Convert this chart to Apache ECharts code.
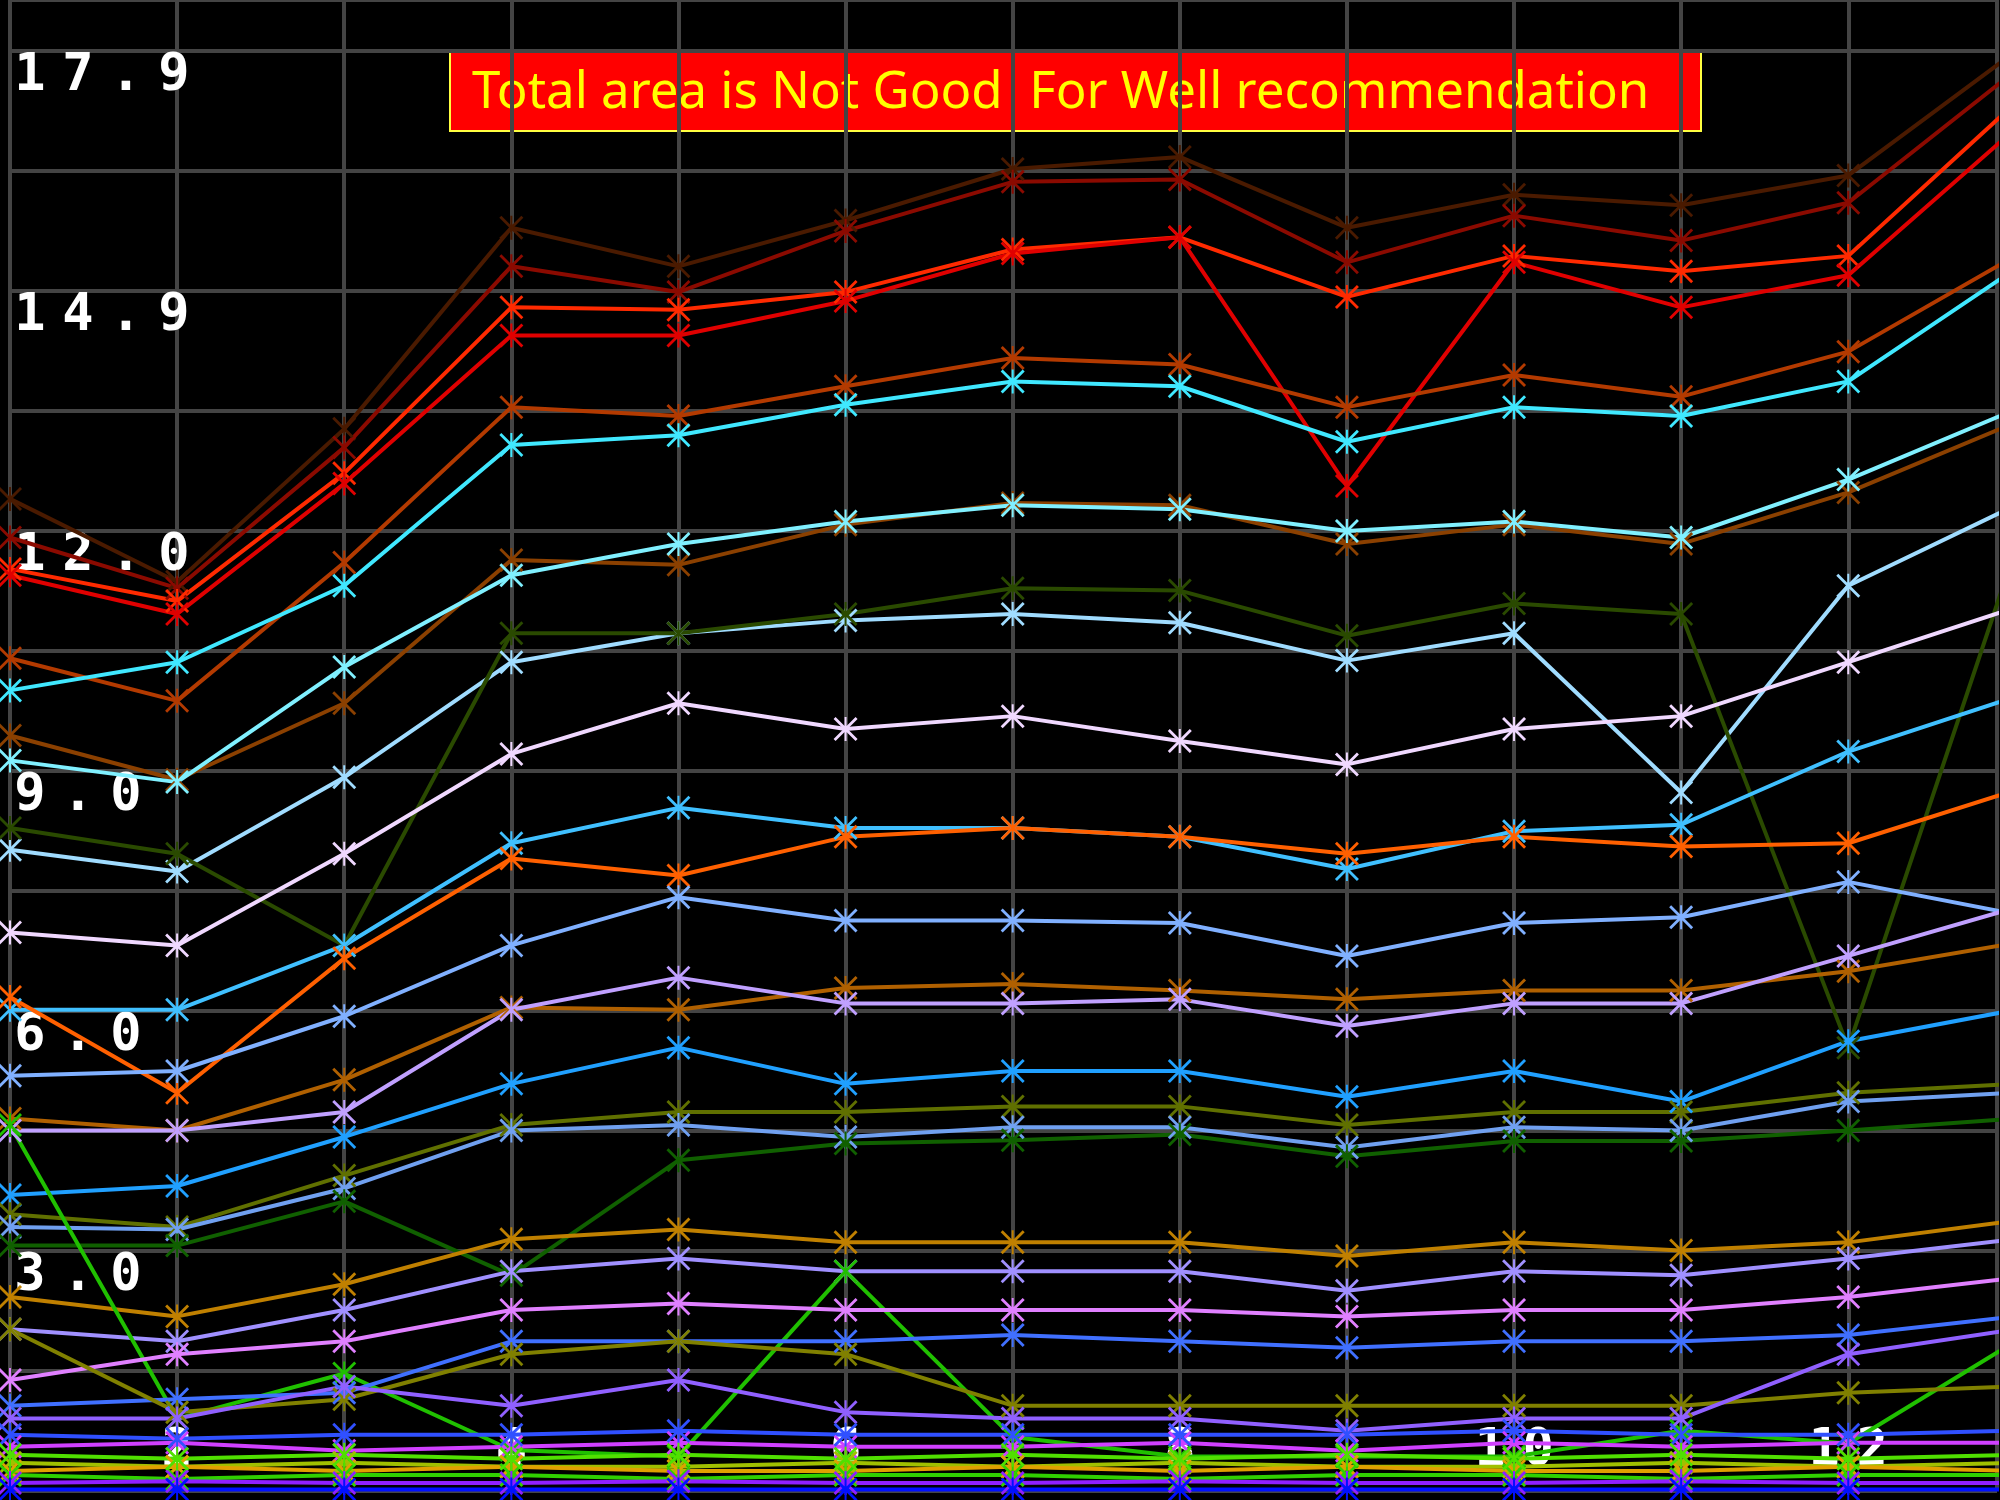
<!DOCTYPE html>
<html>
<head>
<meta charset="utf-8">
<script src="https://cdn.jsdelivr.net/npm/echarts@6/dist/echarts.min.js"></script>
<style>
  html, body { margin: 0; padding: 0; background: #000; }
  #chart { width: 2000px; height: 1500px; }
</style>
</head>
<body>
<div id="chart"></div>
<script>
const xValues = [1, 2, 3, 4, 5, 6, 7, 8, 9, 10, 11, 12, 13];
const yTickLabels = ['', '', '3.0', '', '6.0', '', '9.0', '', '12.0', '', '14.9', '', '17.9'];
const titleText = 'Total area is Not Good  For Well recommendation';

const s1 = [12.33, 11.30, 13.20, 15.70, 15.22, 15.79, 16.43, 16.58, 15.70, 16.11, 15.98, 16.35, 17.89];
const s2 = [11.85, 11.22, 12.97, 15.22, 14.90, 15.66, 16.27, 16.30, 15.27, 15.85, 15.54, 16.01, 17.65];
const s3 = [11.46, 11.06, 12.65, 14.71, 14.68, 14.90, 15.43, 15.58, 14.84, 15.35, 15.16, 15.35, 17.25];
const s4 = [11.38, 10.90, 12.52, 14.36, 14.36, 14.79, 15.38, 15.58, 12.49, 15.27, 14.71, 15.11, 16.93];
const s5 = [10.35, 9.82, 11.54, 13.47, 13.36, 13.73, 14.08, 14.00, 13.47, 13.87, 13.60, 14.16, 15.35];
const s6 = [9.95, 10.30, 11.25, 13.00, 13.12, 13.50, 13.79, 13.73, 13.04, 13.47, 13.36, 13.79, 15.19];
const s7 = [9.39, 8.84, 9.79, 11.57, 11.51, 12.01, 12.28, 12.25, 11.77, 12.01, 11.77, 12.41, 13.28];
const s8 = [9.08, 8.81, 10.24, 11.38, 11.77, 12.05, 12.25, 12.20, 11.93, 12.05, 11.85, 12.57, 13.44];
const s9 = [7.97, 7.70, 8.87, 10.30, 10.66, 10.82, 10.90, 10.79, 10.32, 10.66, 8.68, 11.25, 12.25];
const s10 = [8.24, 7.92, 6.78, 10.66, 10.66, 10.90, 11.22, 11.19, 10.63, 11.03, 10.90, 5.51, 11.70];
const s11 = [6.94, 6.78, 7.92, 9.16, 9.79, 9.47, 9.63, 9.32, 9.03, 9.47, 9.63, 10.30, 10.98];
const s12 = [5.98, 5.98, 6.78, 8.05, 8.49, 8.24, 8.24, 8.13, 7.73, 8.20, 8.28, 9.19, 9.87];
const s13 = [6.14, 4.95, 6.62, 7.86, 7.65, 8.13, 8.24, 8.13, 7.92, 8.13, 8.01, 8.05, 8.71];
const s14 = [5.16, 5.22, 5.90, 6.78, 7.38, 7.09, 7.09, 7.06, 6.65, 7.06, 7.13, 7.57, 7.17];
const s15 = [4.63, 4.48, 5.11, 6.01, 5.98, 6.25, 6.30, 6.22, 6.11, 6.22, 6.22, 6.46, 6.81];
const s16 = [4.48, 4.48, 4.71, 5.98, 6.38, 6.06, 6.06, 6.11, 5.78, 6.06, 6.06, 6.65, 7.25];
const s17 = [3.68, 3.79, 4.40, 5.06, 5.51, 5.06, 5.22, 5.22, 4.90, 5.22, 4.84, 5.59, 5.98];
const s18 = [3.44, 3.28, 3.92, 4.55, 4.71, 4.71, 4.78, 4.78, 4.55, 4.71, 4.71, 4.95, 5.06];
const s19 = [3.28, 3.25, 3.76, 4.48, 4.55, 4.40, 4.52, 4.52, 4.27, 4.52, 4.48, 4.84, 4.95];
const s20 = [3.05, 3.05, 3.60, 2.68, 4.11, 4.32, 4.36, 4.43, 4.16, 4.35, 4.35, 4.48, 4.63];
const s21 = [2.41, 2.17, 2.57, 3.13, 3.25, 3.09, 3.09, 3.09, 2.92, 3.09, 2.99, 3.09, 3.36];
const s22 = [2.01, 1.86, 2.25, 2.73, 2.89, 2.73, 2.73, 2.73, 2.49, 2.73, 2.68, 2.89, 3.13];
const s23 = [4.55, 0.90, 1.46, 0.51, 0.43, 2.73, 0.67, 0.43, 0.43, 0.43, 0.75, 0.59, 1.86];
const s24 = [1.38, 1.70, 1.86, 2.25, 2.33, 2.25, 2.25, 2.25, 2.17, 2.25, 2.25, 2.41, 2.65];
const s25 = [1.06, 1.14, 1.22, 1.86, 1.86, 1.86, 1.94, 1.86, 1.78, 1.86, 1.86, 1.94, 2.17];
const s26 = [2.01, 0.98, 1.14, 1.70, 1.86, 1.70, 1.06, 1.06, 1.06, 1.06, 1.06, 1.22, 1.30];
const s27 = [0.90, 0.90, 1.30, 1.06, 1.38, 0.98, 0.90, 0.90, 0.75, 0.90, 0.90, 1.70, 2.01];
const b1 = [0.55, 0.60, 0.50, 0.55, 0.60, 0.55, 0.55, 0.60, 0.50, 0.60, 0.55, 0.60, 0.60];
const b2 = [0.70, 0.65, 0.70, 0.70, 0.75, 0.70, 0.70, 0.70, 0.70, 0.75, 0.70, 0.70, 0.75];
const b3 = [0.35, 0.30, 0.35, 0.30, 0.30, 0.35, 0.30, 0.35, 0.30, 0.30, 0.35, 0.30, 0.35];
const b4 = [0.25, 0.30, 0.25, 0.30, 0.25, 0.25, 0.30, 0.25, 0.30, 0.25, 0.25, 0.30, 0.25];
const b5 = [0.20, 0.15, 0.20, 0.20, 0.15, 0.20, 0.20, 0.15, 0.20, 0.20, 0.15, 0.20, 0.20];
const b6 = [0.10, 0.12, 0.10, 0.10, 0.12, 0.10, 0.10, 0.12, 0.10, 0.10, 0.12, 0.10, 0.10];
const b7 = [0.02, 0.02, 0.02, 0.02, 0.02, 0.02, 0.02, 0.02, 0.02, 0.02, 0.02, 0.02, 0.02];
const b8 = [0.45, 0.40, 0.45, 0.40, 0.45, 0.40, 0.45, 0.40, 0.45, 0.40, 0.45, 0.40, 0.45];

const seriesValues = [s1, s2, s3, s4, s5, s6, s7, s8, s9, s10, s11, s12, s13, s14, s15, s16, s17,
  s18, s19, s20, s21, s22, s23, s24, s25, s26, s27, b1, b2, b3, b4, b5, b6, b7, b8];
const seriesColors = ['#4a1a00', '#8b0a00', '#ff2a00', '#e00000', '#b33a00', '#40e8ff', '#8b4000',
  '#80f0ff', '#a0dcff', '#2a4a00', '#f0d8ff', '#40c0ff', '#ff6000', '#80b0ff', '#b06000', '#c0a0ff',
  '#20a0ff', '#607000', '#70a0f0', '#106000', '#c08000', '#a090ff', '#20c000', '#e080ff', '#4070ff',
  '#808000', '#9060ff', '#d040ff', '#3050ff', '#a0c000', '#e0a000', '#30d000', '#9020ff', '#0010ff', '#50e000'];

const tickStep = 17.9 / 12;
const starSymbol = 'path://M11 0h2v24h-2zM0 2L2 0L24 22L22 24zM22 0L24 2L2 24L0 22z';
const pixelFont = 'DejaVu Sans Mono';
const cellRich = { c: { width: 48, align: 'center', color: '#fff', fontFamily: pixelFont, fontWeight: 'bold', fontSize: 52 } };
const spread = s => s.split('').map(ch => '{c|' + ch + '}').join('');

const chart = echarts.init(document.getElementById('chart'));
chart.setOption({
  animation: false,
  backgroundColor: '#000',
  grid: { left: 10, right: 0, top: 0, bottom: 9 },
  xAxis: {
    type: 'value', min: 1, max: 12.89, interval: 1,
    axisLine: { show: false }, axisTick: { show: false },
    splitLine: { lineStyle: { color: '#444', width: 4 } },
    axisLabel: {
      inside: true, margin: 14, verticalAlign: 'bottom', rich: cellRich,
      formatter: v => (v % 2 === 0 ? spread(String(v)) : '')
    }
  },
  yAxis: {
    type: 'value', min: 0, max: 18.53, interval: tickStep,
    axisLine: { show: false }, axisTick: { show: false },
    splitLine: { lineStyle: { color: '#444', width: 4 } },
    axisLabel: {
      inside: true, margin: -4, verticalAlign: 'top', align: 'left', rich: cellRich,
      formatter: v => { const t = yTickLabels[Math.round(v / tickStep)]; return t ? spread(t) : ''; }
    }
  },
  graphic: [{
    type: 'group', left: 449, top: 50, z: 100,
    children: [
      { type: 'rect', shape: { width: 1251, height: 80 }, style: { fill: '#ff0000', stroke: '#ffff40', lineWidth: 2 } },
      { type: 'text', x: 22, y: 42, style: { text: titleText, fill: '#ffff00', font: '51px "Noto Sans"', align: 'left', verticalAlign: 'middle' } }
    ]
  }],
  series: seriesValues.map((vals, i) => ({
    type: 'line',
    data: vals.map((v, j) => [xValues[j], v]),
    symbol: starSymbol, symbolSize: 24,
    showAllSymbol: true,
    lineStyle: { color: seriesColors[i], width: 4 },
    itemStyle: { color: seriesColors[i] },
    clip: true, z: 3
  }))
});
</script>
</body>
</html>
